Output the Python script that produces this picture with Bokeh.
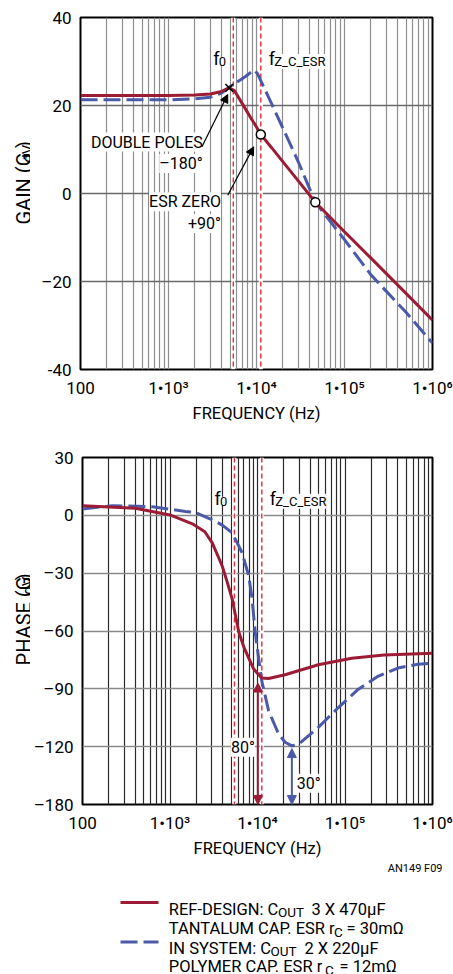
import math
from bokeh.plotting import figure
from bokeh.layouts import column, row
from bokeh.models import Label, Span, Arrow, NormalHead, FixedTicker, Range1d
from bokeh.embed import file_html
from bokeh.resources import INLINE

FONT = "Roboto"
RED = "#9c1c35"
BLUE = "#4a5aa8"
MARK = "#e8283a"

# ---------------- data ----------------
freq_gain_ref = [100, 500, 1000, 2000, 3000, 4000, 4900, 5600, 7000, 8500, 10000, 11200,
                 15000, 20000, 30000, 46600, 100000, 200000, 500000, 1000000]
gain_ref = [22.3, 22.3, 22.3, 22.4, 22.6, 23.2, 24.0, 23.4, 20.2, 17.4, 15.1, 13.4,
            10.3, 7.2, 2.8, -2.0, -8.7, -14.7, -22.7, -28.8]

freq_gain_sys = [100, 1000, 2000, 3000, 4000, 5000, 6000, 7500, 9400, 10300,
                 15000, 20000, 30000, 46600, 100000, 200000, 500000, 1000000]
gain_sys = [21.3, 21.3, 21.5, 21.9, 22.8, 24.3, 25.3, 26.6, 28.1, 27.2,
            20.2, 14.8, 7.1, -2.0, -10.5, -18.5, -27.0, -34.0]

freq_phase_ref = [100, 400, 1000, 1800, 2500, 3040, 3500, 3950, 4500, 5130, 6100, 7000,
                  7940, 9000, 10300, 11200, 13400, 20700, 32000, 49600, 119000, 280000, 1000000]
phase_ref = [5.0, 3.7, 0.2, -4.4, -8.5, -14.3, -20.7, -26.3, -34.5, -43.3, -60.4, -68.5,
             -74.1, -79.5, -82.7, -84.4, -84.6, -82.7, -80.1, -77.5, -74.1, -72.4, -71.5]

freq_phase_sys = [100, 220, 630, 1500, 1960, 3040, 4000, 5130, 6670, 7940, 8670, 9400,
                  10300, 11200, 13400, 17400, 20700, 24700, 29400, 49600, 84000, 141000,
                  238000, 402000, 680000, 1000000]
phase_sys = [3.3, 5.0, 4.5, 2.0, 1.4, -2.3, -5.2, -9.1, -19.4, -31.4, -43.3, -60.4,
             -74.1, -86.0, -101.4, -113.4, -117.7, -119.6, -118.8, -110.0, -99.7, -90.3,
             -83.5, -79.2, -77.2, -76.8]

F0 = 5450          # double-pole frequency marker
FZ = 11200         # ESR zero frequency marker
pole_point = (4900, 24.0)
esr_point = (11200, 13.4)
cross_point = (46600, -2.0)
ref_min = (10100, -87.0)
sys_min = (24700, -121.0)

x_ticks = [100, 1000, 10000, 100000, 1000000]
x_tick_labels = ["100", "1•10³", "1•10⁴", "1•10⁵", "1•10⁶"]
x_minor = [m * 10 ** e for e in range(2, 6) for m in range(2, 10)]
gain_ticks = [-40, -20, 0, 20, 40]
gain_tick_labels = ["-40", "–20", "0", "20", "40"]
phase_ticks = [-150, -120, -90, -60, -30, 0, 30]
phase_tick_labels = ["–180", "–120", "–90", "–60", "–30", "0", "30"]

legend_ref = ["REF-DESIGN: C", "OUT", "3 X 470µF", "TANTALUM CAP. ESR r", "C", "= 30mΩ"]
legend_sys = ["IN SYSTEM: C", "OUT", "2 X 220µF", "POLYMER CAP. ESR r", "C", "= 12mΩ"]


def base(height, yr, yticks, ylabels, top, bottom, vcol, hcol):
    p = figure(width=423, height=height, x_axis_type="log",
               x_range=Range1d(100, 1e6), y_range=Range1d(*yr),
               output_backend="svg", toolbar_location=None,
               min_border_left=50, min_border_right=21,
               min_border_top=top, min_border_bottom=bottom)
    p.xaxis.ticker = FixedTicker(ticks=x_ticks, minor_ticks=x_minor)
    p.xaxis.major_label_overrides = dict(zip(x_ticks, x_tick_labels))
    p.yaxis.ticker = FixedTicker(ticks=yticks)
    p.yaxis.major_label_overrides = dict(zip(yticks, ylabels))
    for ax in p.axis:
        ax.major_tick_out = 0
        ax.major_tick_in = 0
        ax.minor_tick_out = 0
        ax.minor_tick_in = 0
        ax.axis_line_color = None
        ax.major_label_text_font = FONT
        ax.major_label_text_font_size = "17px"
        ax.major_label_text_color = "black"
        ax.axis_label_text_font = FONT
        ax.axis_label_text_font_size = "16.5px"
        ax.axis_label_text_font_style = "normal"
        ax.axis_label_text_color = "black"
    p.xaxis.major_label_standoff = 8
    p.yaxis.major_label_standoff = 9
    p.xaxis.axis_label = "FREQUENCY (Hz)"
    p.xaxis.axis_label_standoff = 3
    p.xgrid.grid_line_color = vcol
    p.xgrid.minor_grid_line_color = vcol
    p.xgrid.grid_line_width = 1.2
    p.xgrid.minor_grid_line_width = 1.2
    p.ygrid.grid_line_color = hcol
    p.ygrid.grid_line_width = 1.4
    p.outline_line_color = "black"
    p.outline_line_width = 2
    p.background_fill_color = "white"
    p.border_fill_color = "white"
    for loc in (F0, FZ):
        p.add_layout(Span(location=loc, dimension="height", line_color="white",
                          line_width=4, level="underlay"))
        p.add_layout(Span(location=loc, dimension="height", line_color=MARK,
                          line_width=1.4, line_dash="5 3", level="underlay"))
    return p


def lab(p, x, y, text, size="16px", align="left", dx=0, dy=0, bg="white", angle=0.0):
    p.add_layout(Label(x=x, y=y, text=text, x_offset=dx, y_offset=dy,
                       text_font=FONT, text_font_size=size, text_align=align,
                       text_baseline="alphabetic", text_color="black",
                       background_fill_color=bg, angle=angle))


def freq_labels(p, y):
    lab(p, F0, y, "f", size="18px", dx=-20)
    lab(p, F0, y, "0", size="13px", dx=-14.5, dy=-3)
    lab(p, FZ, y, "f", size="18px", dx=8)
    lab(p, FZ, y, "Z_C_ESR", size="13px", dx=13.5, dy=-3)


def arrow(p, x0, y0, x1, y1, color, width=1.2, size=8, both=False):
    head = NormalHead(size=size, fill_color=color, line_color=color)
    start = NormalHead(size=size, fill_color=color, line_color=color) if both else None
    p.add_layout(Arrow(x_start=x0, y_start=y0, x_end=x1, y_end=y1, end=head, start=start,
                       line_color=color, line_width=width))


def side_title(height, pieces):
    t = figure(width=30, height=height, x_range=Range1d(0, 30), y_range=Range1d(0, height),
               x_axis_location=None, y_axis_location=None, output_backend="svg",
               toolbar_location=None, min_border=0)
    t.grid.visible = False
    t.outline_line_color = None
    for text, x, y, size in pieces:
        lab(t, x, y, text, size=size, bg=None, angle=math.pi / 2)
    return t


# ---------------- gain plot ----------------
p1 = base(428, (-40, 40), gain_ticks, gain_tick_labels, 17, 59, "#8e8e8e", "#6a6a6a")
p1.line(freq_gain_sys, gain_sys, line_color=BLUE, line_width=3, line_dash="17 6")
p1.line(freq_gain_ref, gain_ref, line_color=RED, line_width=3)
p1.scatter([pole_point[0]], [pole_point[1]], marker="x", size=11, line_color="black", line_width=1.6)
p1.scatter([esr_point[0], cross_point[0]], [esr_point[1], cross_point[1]], marker="circle",
           size=9, fill_color="white", line_color="black", line_width=1.5)
freq_labels(p1, 30.7)
lab(p1, 2450, 11.7, "DOUBLE POLES", align="right")
lab(p1, 2450, 6.8, "–180°", align="right")
lab(p1, 3950, -1.9, "ESR ZERO", align="right")
lab(p1, 3950, -6.8, "+90°", align="right")
arrow(p1, 2400, 10.6, 4710, 22.5, "black")
arrow(p1, 4710, -0.4, 9290, 10.6, "black")
t1 = side_title(428, [("GAIN (G", 23, 176.3, "20px"), ("dV", 27, 251.3, "15px"),
                      (")", 23, 269.3, "20px")])

# ---------------- phase plot ----------------
p2 = base(432, (-150, 30), phase_ticks, phase_tick_labels, 29, 52, "#2a2a2a", "#8a8a8a")
p2.line(freq_phase_sys, phase_sys, line_color=BLUE, line_width=3, line_dash="17 6")
p2.line(freq_phase_ref, phase_ref, line_color=RED, line_width=3)
freq_labels(p2, 8.8)
arrow(p2, ref_min[0], ref_min[1], ref_min[0], -150, RED, width=2, size=9, both=True)
arrow(p2, sys_min[0], sys_min[1], sys_min[0], -150, BLUE, width=2, size=9, both=True)
lab(p2, ref_min[0], -120.3, "80°", align="right", dx=-3)
lab(p2, sys_min[0], -139, "30°", dx=5)
t2 = side_title(432, [("PHASE (G", 23, 173.1, "20px"), ("dV", 27, 261.1, "15px"),
                      (")", 23, 279.3, "20px")])

# ---------------- legend ----------------
p3 = figure(width=453, height=114, x_range=Range1d(0, 453), y_range=Range1d(0, 114),
            x_axis_location=None, y_axis_location=None, output_backend="svg",
            toolbar_location=None, min_border=0)
p3.grid.visible = False
p3.outline_line_color = None
p3.line([120, 158], [72.0, 72.0], line_color=RED, line_width=3)
p3.line([120, 158], [32.5, 32.5], line_color=BLUE, line_width=3, line_dash="17 6")
lab(p3, 442, 105.7, "AN149 F09", size="11px", align="right", bg=None)


def legend_block(y1, y2, parts, xs):
    lab(p3, xs[0], y1, parts[0], size="16.5px", bg=None)
    lab(p3, xs[1], y1, parts[1], size="13.5px", dy=-3, bg=None)
    lab(p3, xs[2], y1, parts[2], size="16.5px", bg=None)
    lab(p3, xs[0], y2, parts[3], size="16.5px", bg=None)
    lab(p3, xs[3], y2, parts[4], size="13.5px", dy=-3, bg=None)
    lab(p3, xs[4], y2, parts[5], size="16.5px", bg=None)


legend_block(65.5, 46.0, legend_ref, [168.3, 277.5, 311, 333.5, 346])
legend_block(26.5, 8.0, legend_sys, [168.3, 270, 304, 324.5, 339])

layout = column(row(t1, p1), row(t2, p2), p3)
open("out.html", "w").write(file_html(layout, INLINE))
